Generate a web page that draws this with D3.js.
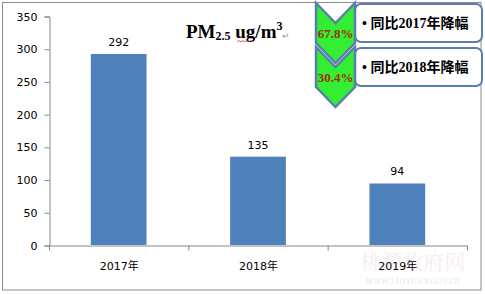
<!DOCTYPE html>
<html>
<head>
<meta charset="utf-8">
<script src="https://cdn.jsdelivr.net/npm/d3@7"></script>
<style>
    body { margin: 0; background: #fff; }
    svg { display: block; }
</style>
</head>
<body>
<svg id="drawing_region"></svg>
<script>
const years = ['2017年', '2018年', '2019年'];
const pm25 = [292, 135, 94];
const yTicks = [0, 50, 100, 150, 200, 250, 300, 350];
const dropRates = ['67.8%', '30.4%'];
const dropLabels = ['• 同比2017年降幅', '• 同比2018年降幅'];

const width = 485, height = 294;
const margin = {top: 16, right: 18, bottom: 49, left: 49};

const svg = d3.select('#drawing_region')
    .attr('width', width)
    .attr('height', height);

// outer frame
svg.append('rect')
    .attr('x', 2.5).attr('y', 2.5)
    .attr('width', 478.5).attr('height', 287.5)
    .attr('fill', '#fff')
    .attr('stroke', '#8c8c8c')
    .attr('stroke-width', 1);

const xscale = d3.scaleBand()
    .domain(years)
    .range([margin.left, width - margin.right])
    .paddingInner(0.6)
    .paddingOuter(0.3);

const yscale = d3.scaleLinear()
    .domain([0, 350])
    .range([height - margin.bottom, margin.top]);

// watermark (very faint, sits behind the axis labels like in the original)
svg.append('text')
    .attr('x', 413).attr('y', 269)
    .attr('text-anchor', 'middle')
    .attr('font-family', '"Noto Serif CJK SC", "Noto Sans CJK SC"')
    .attr('font-size', 21)
    .attr('fill', '#f7eeee')
    .text('桃源政府网');
svg.append('text')
    .attr('x', 413).attr('y', 284)
    .attr('text-anchor', 'middle')
    .attr('font-family', '"Liberation Serif"')
    .attr('font-size', 8)
    .attr('fill', '#eee6e6')
    .text('WWW.TAOYUAN.GOV.CN');

// y axis
const yaxis = d3.axisLeft(yscale)
    .tickValues(yTicks)
    .tickSize(5)
    .tickPadding(7);

const yg = svg.append('g')
    .attr('transform', `translate(${margin.left + 0.5}, 0.5)`)
    .call(yaxis);
yg.selectAll('path, line').attr('stroke', '#888');
yg.selectAll('text')
    .attr('font-family', '"DejaVu Sans"')
    .attr('font-size', 11)
    .attr('fill', '#000');

// x axis
const xaxis = d3.axisBottom(xscale)
    .tickSize(0)
    .tickPadding(17)
    .tickSizeOuter(0);

const xg = svg.append('g')
    .attr('transform', `translate(0.5, ${height - margin.bottom + 0.5})`)
    .call(xaxis);
xg.selectAll('path').attr('stroke', '#888');
xg.selectAll('text')
    .attr('font-family', '"DejaVu Sans", "Noto Sans CJK SC"')
    .attr('font-size', 11)
    .attr('fill', '#000');

// ticks between categories
const x0 = xscale.range()[0];
xg.selectAll('.sep')
    .data(d3.range(years.length + 1))
    .enter()
    .append('line')
    .attr('x1', i => x0 + i * xscale.step())
    .attr('x2', i => x0 + i * xscale.step())
    .attr('y1', 0).attr('y2', 5)
    .attr('stroke', '#888');

// bars
svg.selectAll('.bar')
    .data(pm25)
    .enter()
    .append('rect')
    .attr('x', (d, i) => xscale(years[i]))
    .attr('y', d => yscale(d))
    .attr('width', xscale.bandwidth())
    .attr('height', d => yscale(0) - yscale(d))
    .attr('fill', '#4f81bd');

svg.selectAll('.val')
    .data(pm25)
    .enter()
    .append('text')
    .attr('x', (d, i) => xscale(years[i]) + xscale.bandwidth() / 2)
    .attr('y', d => yscale(d) - 8)
    .attr('text-anchor', 'middle')
    .attr('font-family', '"DejaVu Sans"')
    .attr('font-size', 11)
    .text(d => d);

// title
const title = svg.append('text')
    .attr('x', 186).attr('y', 38)
    .attr('font-family', '"Liberation Serif"')
    .attr('font-weight', 'bold')
    .attr('font-size', 19);
title.append('tspan').text('PM');
title.append('tspan').attr('font-size', 12).attr('dy', 2).text('2.5');
title.append('tspan').attr('dy', -2).text(' ug/m');
title.append('tspan').attr('font-size', 12).attr('dy', -8).text('3');
title.append('tspan').attr('font-size', 9).attr('font-weight', 'normal')
    .attr('fill', '#999').attr('dy', 9).text('↵');

// red spelling squiggle under "ug"
svg.append('path')
    .attr('d', 'M237,42 l2,-1.5 l2,1.5 l2,-1.5 l2,1.5 l2,-1.5 l2,1.5 l2,-1.5 l2,1.5')
    .attr('fill', 'none')
    .attr('stroke', '#e03030')
    .attr('stroke-width', 0.8);

// chevrons + callout boxes
const chev = [{top: 3}, {top: 47}];
const cx = 316, cw = 39, side = 40, dip = 20;

chev.forEach((c, i) => {
    const t = c.top;
    svg.append('rect')
        .attr('x', cx + cw).attr('y', t + 1)
        .attr('width', 482 - cx - cw).attr('height', 38)
        .attr('rx', 6)
        .attr('fill', '#fff')
        .attr('stroke', '#5a7fad')
        .attr('stroke-width', 2);

    svg.append('text')
        .attr('x', 362).attr('y', t + 25)
        .attr('font-family', '"Liberation Serif", "Noto Sans CJK SC"')
        .attr('font-weight', 'bold')
        .attr('font-size', 14)
        .text(dropLabels[i]);
});

chev.forEach((c, i) => {
    const t = c.top;
    const pts = [
        [cx, t], [cx + cw / 2, t + dip], [cx + cw, t],
        [cx + cw, t + side], [cx + cw / 2, t + side + dip], [cx, t + side]
    ];
    svg.append('path')
        .attr('d', d3.line()(pts) + 'Z')
        .attr('fill', '#33ee33')
        .attr('stroke', '#5a7fad')
        .attr('stroke-width', 2.5)
        .attr('stroke-linejoin', 'miter');

    svg.append('text')
        .attr('x', cx + cw / 2).attr('y', t + 35)
        .attr('text-anchor', 'middle')
        .attr('font-family', '"Liberation Serif"')
        .attr('font-weight', 'bold')
        .attr('font-size', 13)
        .attr('fill', '#a0300c')
        .text(dropRates[i]);
});
</script>
</body>
</html>
